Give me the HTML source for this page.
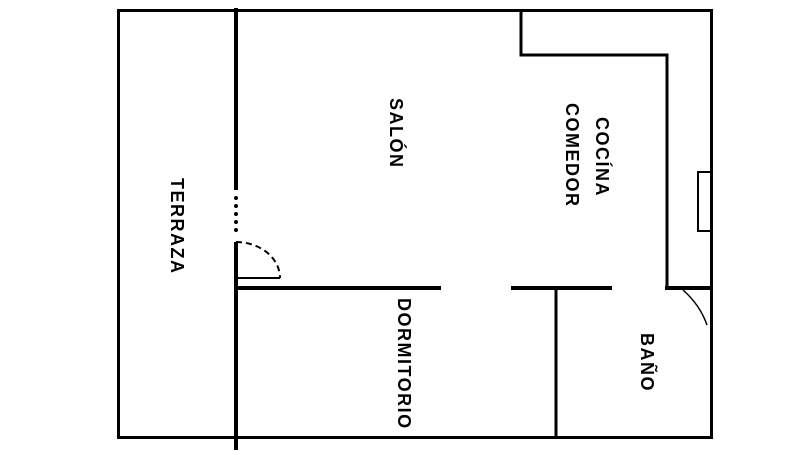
<!DOCTYPE html>
<html><head><style>html,body{margin:0;padding:0;background:#fff}</style></head>
<body>
<svg width="800" height="450" viewBox="0 0 800 450" xmlns="http://www.w3.org/2000/svg" font-family="Liberation Sans, sans-serif" font-weight="bold" font-size="18" letter-spacing="1.5">
<rect width="800" height="450" fill="#fff"/>
<g stroke="#000" fill="none" stroke-width="3">
<rect x="118.5" y="10.5" width="593" height="427"/>
<line x1="236" y1="8" x2="236" y2="190" stroke-width="4"/>
<line x1="236" y1="242" x2="236" y2="450" stroke-width="4"/>
<line x1="236" y1="198" x2="236" y2="238" stroke-width="4" stroke-dasharray="0 8" stroke-linecap="round"/>
<path d="M236 242 A44 36 0 0 1 280 278" stroke-width="2" stroke-dasharray="6 4"/>
<line x1="236" y1="278" x2="280" y2="278" stroke-width="2"/>
<line x1="236" y1="288" x2="441" y2="288" stroke-width="4"/>
<line x1="511" y1="288" x2="612" y2="288" stroke-width="4"/>
<line x1="665" y1="288" x2="711" y2="288" stroke-width="4"/>
<line x1="556" y1="288" x2="556" y2="437"/>
<polyline points="521,10 521,55 667,55 667,288"/>
<rect x="698" y="172" width="13" height="59" stroke-width="2"/>
<path d="M683 290 Q700 305 707 325" stroke-width="1.5"/>
</g>
<g fill="#000">
<text transform="translate(171,178) rotate(90)">TERRAZA</text>
<text transform="translate(390,98) rotate(90)">SALÓN</text>
<text transform="translate(596,117) rotate(90)">COCÍNA</text>
<text transform="translate(566,103) rotate(90)">COMEDOR</text>
<text transform="translate(398,298) rotate(90)">DORMITORIO</text>
<text transform="translate(641,333) rotate(90)">BAÑO</text>
</g>
</svg>
</body></html>
